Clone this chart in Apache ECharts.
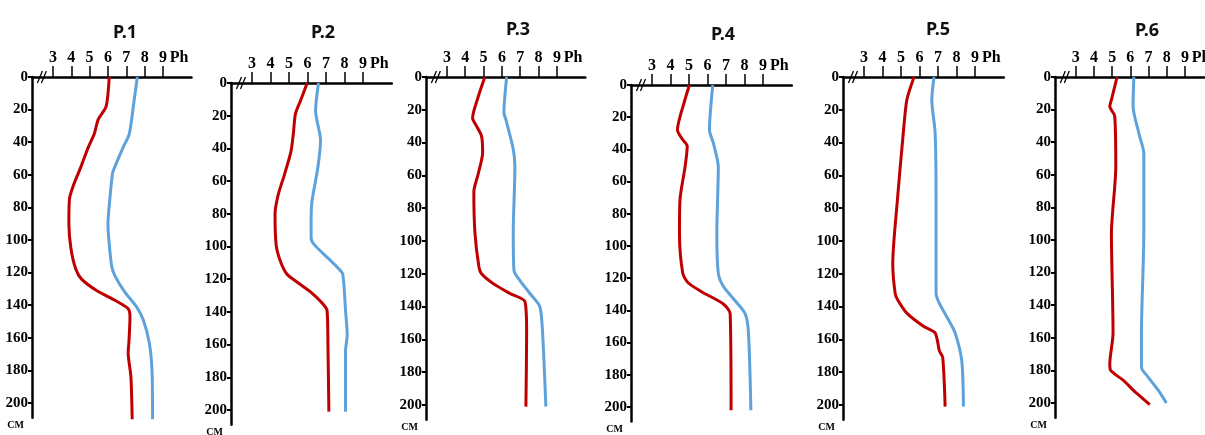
<!DOCTYPE html>
<html><head><meta charset="utf-8">
<script src="https://cdn.jsdelivr.net/npm/echarts@6/dist/echarts.min.js"></script>
<style>html,body{margin:0;padding:0;background:#fff}#c{width:1205px;height:435px}</style>
</head><body><div id="c"></div>
<script>
// ---------- data ----------
const panelNames = ['P.1', 'P.2', 'P.3', 'P.4', 'P.5', 'P.6'];
const depthTicks = [0, 20, 40, 60, 80, 100, 120, 140, 160, 180, 200];
const phTicks = [3, 4, 5, 6, 7, 8, 9];
const phUnitLabel = 'Ph';
const depthUnitLabel = 'CM';

const p1RedDepth = [0, 18, 26, 35, 43, 55, 67, 75, 90, 105, 118, 124, 131, 137, 142, 147, 163, 169, 184, 210];
const p1RedPh    = [6.07, 5.9, 5.47, 5.25, 4.93, 4.53, 4.1, 3.9, 3.87, 3.98, 4.25, 4.56, 5.38, 6.38, 7.09, 7.2, 7.14, 7.1, 7.25, 7.32];
const p1BlueDepth = [0, 14, 35, 43, 55, 59, 75, 90, 100, 116, 122, 132, 141, 149, 163, 180, 210];
const p1BluePh    = [7.6, 7.43, 7.16, 6.83, 6.38, 6.25, 6.1, 6.0, 6.05, 6.2, 6.38, 6.92, 7.56, 7.92, 8.25, 8.4, 8.43];

const p2RedDepth = [0, 11, 19, 31, 42, 56, 68, 80, 99, 109, 117, 122, 128, 135, 139, 160, 201];
const p2RedPh    = [5.98, 5.61, 5.34, 5.23, 5.1, 4.75, 4.42, 4.24, 4.3, 4.53, 4.89, 5.46, 6.19, 6.82, 7.05, 7.1, 7.15];
const p2BlueDepth = [0, 17, 35, 52, 72, 82, 95, 99, 107, 113, 117, 139, 154, 164, 201];
const p2BluePh    = [6.59, 6.43, 6.7, 6.55, 6.24, 6.19, 6.19, 6.37, 7.09, 7.63, 7.9, 8.05, 8.14, 8.05, 8.05];

const p3RedDepth = [0, 12, 25, 30, 36, 46, 59, 70, 95, 116, 120, 126, 132, 137, 156, 201];
const p3RedPh    = [5.07, 4.71, 4.4, 4.62, 4.89, 4.95, 4.71, 4.47, 4.53, 4.75, 4.89, 5.53, 6.44, 7.26, 7.35, 7.31];
const p3BlueDepth = [0, 22, 26, 44, 55, 95, 118, 124, 132, 140, 156, 201];
const p3BluePh    = [6.26, 6.11, 6.22, 6.62, 6.71, 6.62, 6.66, 6.98, 7.53, 8.07, 8.22, 8.4];

const p4RedDepth = [0, 9, 28, 34, 38, 51, 71, 92, 117, 123, 129, 136, 142, 202];
const p4RedPh    = [5.02, 4.78, 4.37, 4.66, 4.9, 4.78, 4.51, 4.48, 4.66, 4.96, 5.77, 6.85, 7.22, 7.27];
const p4BlueDepth = [0, 28, 36, 51, 92, 117, 125, 134, 142, 154, 202];
const p4BluePh    = [6.28, 6.1, 6.31, 6.58, 6.5, 6.58, 6.85, 7.49, 8.03, 8.21, 8.34];

const p5RedDepth = [0, 14, 34, 75, 114, 132, 136, 144, 152, 156, 167, 171, 201];
const p5RedPh    = [5.7, 5.31, 5.12, 4.8, 4.55, 4.68, 4.82, 5.31, 6.21, 6.84, 7.07, 7.25, 7.38];
const p5BlueDepth = [0, 14, 34, 75, 132, 138, 148, 156, 173, 201];
const p5BluePh    = [6.78, 6.66, 6.84, 6.89, 6.89, 7.07, 7.56, 7.92, 8.28, 8.37];

const p6RedDepth = [0, 14, 18, 24, 55, 96, 157, 176, 180, 186, 194, 201];
const p6RedPh    = [5.27, 4.96, 4.87, 5.14, 5.2, 4.96, 5.05, 4.87, 4.92, 5.6, 6.34, 7.07];
const p6BlueDepth = [0, 18, 35, 47, 96, 157, 178, 184, 192, 200];
const p6BluePh    = [6.19, 6.15, 6.48, 6.74, 6.74, 6.61, 6.61, 6.97, 7.52, 7.98];

const redLines = [[p1RedPh, p1RedDepth], [p2RedPh, p2RedDepth], [p3RedPh, p3RedDepth], [p4RedPh, p4RedDepth], [p5RedPh, p5RedDepth], [p6RedPh, p6RedDepth]];
const blueLines = [[p1BluePh, p1BlueDepth], [p2BluePh, p2BlueDepth], [p3BluePh, p3BlueDepth], [p4BluePh, p4BlueDepth], [p5BluePh, p5BlueDepth], [p6BluePh, p6BlueDepth]];

// ---------- layout ----------
const PH_MIN = 1.86, PH_MAX = 10.55, DEPTH_MAX = 209, PH_LABEL_POS = 9.88;
const layout = [
  { left: 32,   top: 77, xs: 18.35, ys: 1.63,  tx: 120,  ty: 19 },
  { left: 231,  top: 83, xs: 18.5,  ys: 1.635, tx: 318,  ty: 19 },
  { left: 426,  top: 77, xs: 18.33, ys: 1.64,  tx: 513,  ty: 16 },
  { left: 631,  top: 85, xs: 18.5,  ys: 1.61,  tx: 718,  ty: 21 },
  { left: 843,  top: 77, xs: 18.5,  ys: 1.64,  tx: 933,  ty: 16 },
  { left: 1055, top: 77, xs: 18.2,  ys: 1.63,  tx: 1142, ty: 17 }
];
const RED = '#c00000', BLUE = '#5ea2dc';
const SERIF = '"Liberation Serif", "DejaVu Serif", serif';

const zip = (xs, ys) => xs.map((v, i) => [v, ys[i]]);

const grids = [], xAxes = [], yAxes = [], series = [], titles = [];
layout.forEach((L, i) => {
  grids.push({
    left: L.left, top: L.top,
    width: (PH_MAX - PH_MIN) * L.xs,
    height: DEPTH_MAX * L.ys,
    outerBoundsMode: 'none', containLabel: false
  });
  xAxes.push({
    type: 'value', gridIndex: i, position: 'top', min: PH_MIN, max: PH_MAX,
    axisLine: { onZero: false, lineStyle: { color: '#000', width: 2.5 } },
    axisTick: { customValues: phTicks, length: 11, lineStyle: { color: '#000', width: 1.5 } },
    axisLabel: {
      customValues: phTicks.concat([PH_LABEL_POS]), margin: 11,
      formatter: v => (v > 9.5 ? phUnitLabel : String(v)),
      fontFamily: SERIF, fontWeight: 'bold', fontSize: 16, color: '#000'
    },
    splitLine: { show: false }
  });
  yAxes.push({
    type: 'value', gridIndex: i, inverse: true, min: 0, max: DEPTH_MAX,
    axisLine: { onZero: false, lineStyle: { color: '#000', width: 2.5 } },
    axisTick: { customValues: depthTicks, length: 4, lineStyle: { color: '#000', width: 2 } },
    axisLabel: {
      customValues: depthTicks, margin: 4,
      fontFamily: SERIF, fontWeight: 'bold', fontSize: 15, color: '#000'
    },
    splitLine: { show: false }
  });
  [[redLines[i], RED], [blueLines[i], BLUE]].forEach(([ln, col]) => {
    series.push({
      type: 'line', xAxisIndex: i, yAxisIndex: i,
      data: zip(ln[0], ln[1]), showSymbol: false, smooth: 0.25, clip: false,
      lineStyle: { color: col, width: 3 }, silent: true
    });
  });
  titles.push({
    text: panelNames[i], left: L.tx, top: L.ty, textAlign: 'center',
    textStyle: { fontFamily: '"Noto Sans", "Open Sans", sans-serif', fontWeight: 'bold', fontSize: 18, color: '#111' }
  });
});

const chart = echarts.init(document.getElementById('c'), null, { renderer: 'canvas' });
chart.setOption({
  animation: false, backgroundColor: '#fff',
  title: titles, grid: grids, xAxis: xAxes, yAxis: yAxes, series: series
});

// axis break marks and depth unit label
const graphics = [];
layout.forEach((L, i) => {
  const p = chart.convertToPixel({ gridIndex: i }, [2.4, 0]);
  const b = chart.convertToPixel({ gridIndex: i }, [PH_MIN, DEPTH_MAX]);
  [-2, 2].forEach(dx => {
    graphics.push({
      type: 'line', silent: true,
      shape: { x1: p[0] + dx - 2.5, y1: p[1] + 6, x2: p[0] + dx + 2.5, y2: p[1] - 6 },
      style: { stroke: '#000', lineWidth: 1.3 }
    });
  });
  graphics.push({
    type: 'text', silent: true, x: b[0] - 8, y: b[1] + 8,
    style: { text: depthUnitLabel, font: 'bold 10px ' + SERIF, fill: '#000', align: 'right', verticalAlign: 'middle' }
  });
});
chart.setOption({ graphic: graphics });
</script>
</body></html>
